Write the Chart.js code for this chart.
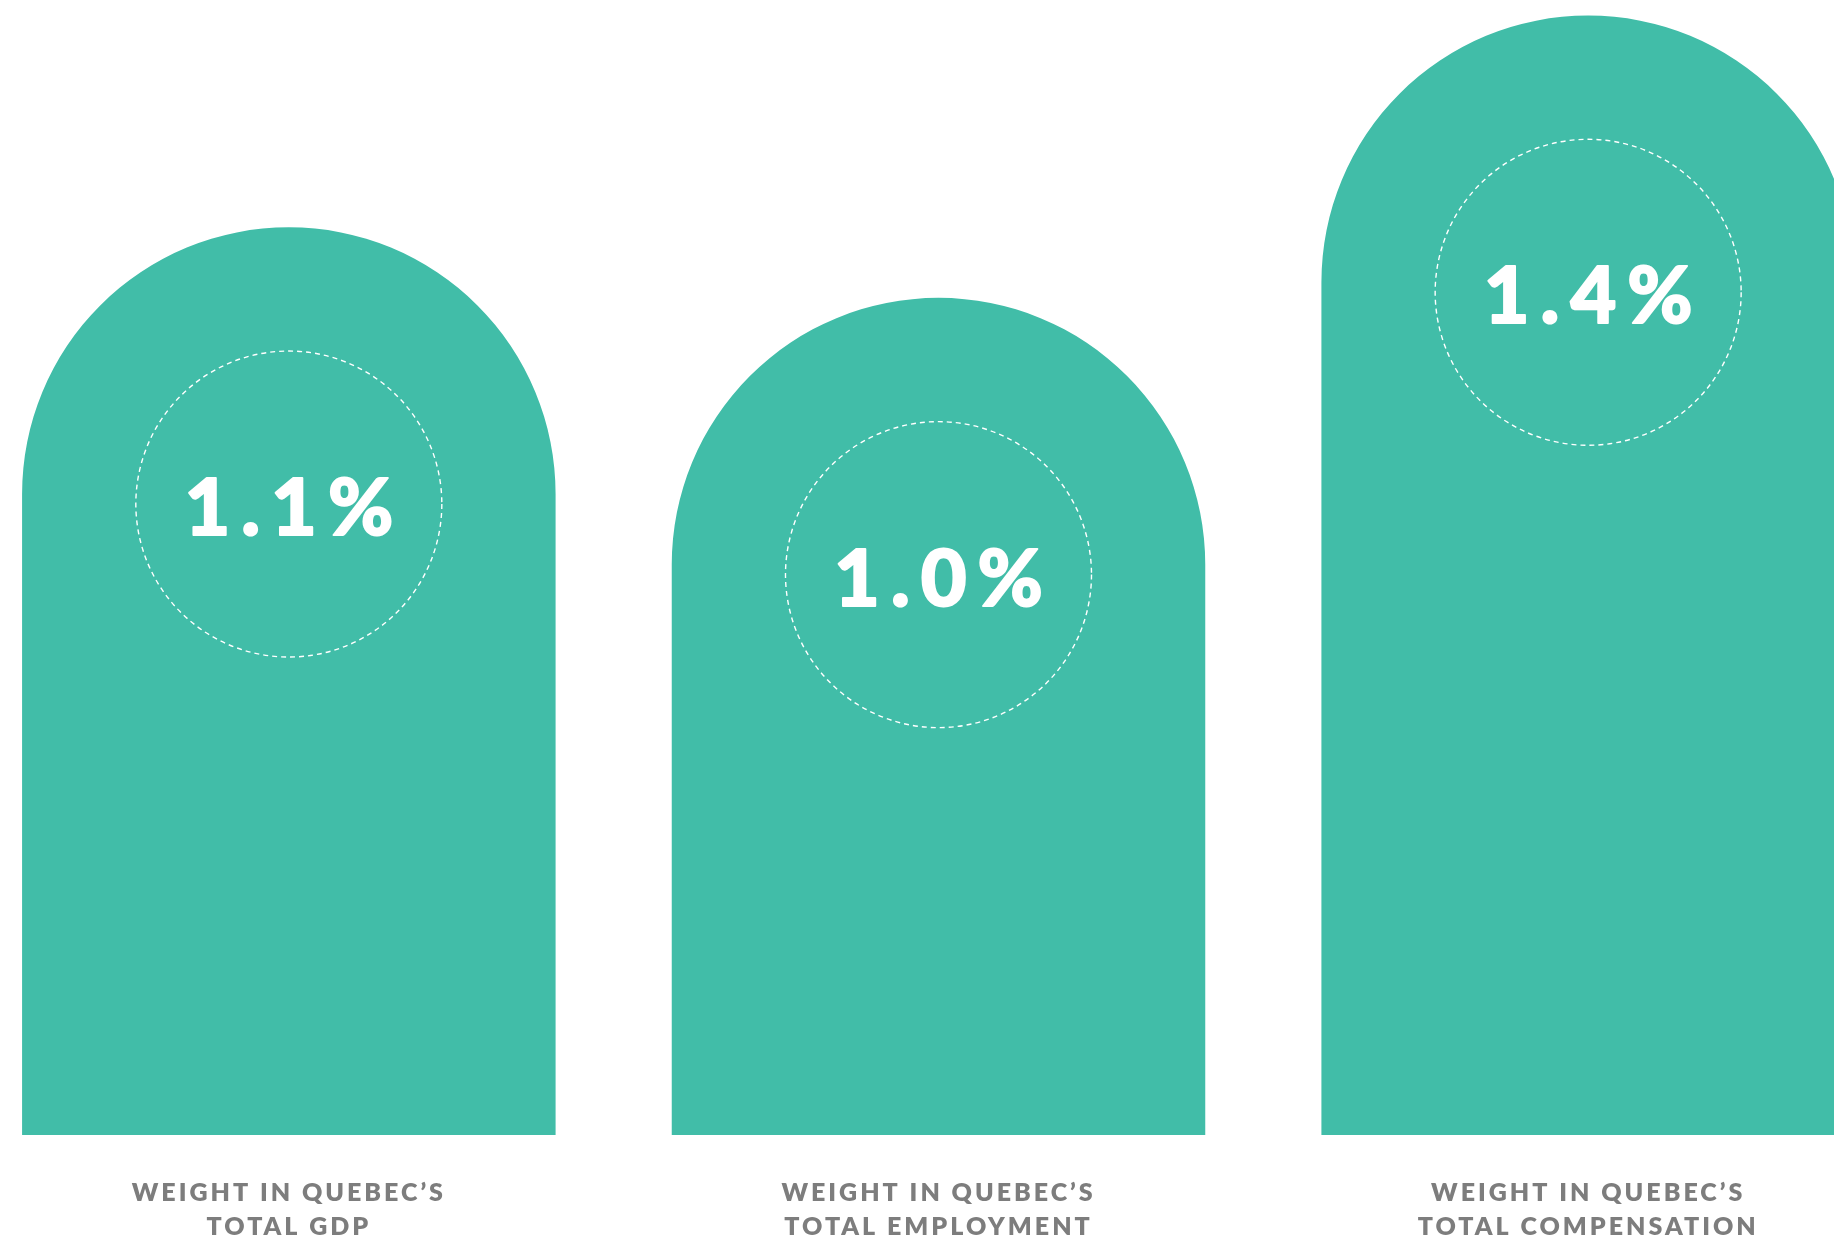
<!DOCTYPE html>
<html>
<head>
<meta charset="utf-8">
<script src="https://cdn.jsdelivr.net/npm/chart.js@4.4.1/dist/chart.umd.min.js"></script>
<style>
  html, body { margin: 0; padding: 0; background: #ffffff; overflow: hidden; width: 1834px; height: 1236px; }
  #wrap { position: absolute; left: -35.6px; top: 0; width: 1949px; height: 1236px; }
</style>
</head>
<body>
<div id="wrap"><canvas id="c" width="1949" height="1236"></canvas></div>
<script>
// ---- data ----
const categories = [
  ["WEIGHT IN QUEBEC\u2019S", "TOTAL GDP"],
  ["WEIGHT IN QUEBEC\u2019S", "TOTAL EMPLOYMENT"],
  ["WEIGHT IN QUEBEC\u2019S", "TOTAL COMPENSATION"]
];
const values = [1.1, 1.0, 1.4];
const valueLabels = ["1.1%", "1.0%", "1.4%"];

// ---- styling ----
const BAR_COLOR = '#41bda8';
const LABEL_COLOR = '#7d7d7d';
const AXIS_MIN = -0.186;
const AXIS_MAX = 1.422;

const labelPlugin = {
  id: 'archLabels',
  beforeDraw(chart) {
    chart.ctx.letterSpacing = '3px';
  },
  afterDatasetsDraw(chart) {
    const ctx = chart.ctx;
    const meta = chart.getDatasetMeta(0);
    meta.data.forEach((bar, i) => {
      const cx = bar.x;
      const cy = bar.y + bar.width / 2 + 10;
      ctx.save();
      ctx.beginPath();
      ctx.setLineDash([5, 4]);
      ctx.lineWidth = 1.4;
      ctx.strokeStyle = '#ffffff';
      ctx.arc(cx, cy, 153, 0, Math.PI * 2);
      ctx.stroke();
      ctx.setLineDash([]);
      const sp = 11;
      ctx.letterSpacing = sp + 'px';
      ctx.fillStyle = '#ffffff';
      ctx.strokeStyle = '#ffffff';
      ctx.lineWidth = 2;
      ctx.lineJoin = 'round';
      ctx.font = '900 79px Lato';
      ctx.textAlign = 'center';
      ctx.textBaseline = 'alphabetic';
      ctx.fillText(valueLabels[i], cx + sp / 2, cy + 31);
      ctx.strokeText(valueLabels[i], cx + sp / 2, cy + 31);
      ctx.restore();
    });
  }
};

new Chart(document.getElementById('c'), {
  type: 'bar',
  data: {
    labels: categories,
    datasets: [{
      data: values,
      base: AXIS_MIN,
      backgroundColor: BAR_COLOR,
      borderWidth: 0,
      borderRadius: { topLeft: 9999, topRight: 9999 },
      borderSkipped: 'start',
      categoryPercentage: 1,
      barPercentage: 0.8212
    }]
  },
  options: {
    responsive: false,
    animation: false,
    devicePixelRatio: 1,
    layout: { padding: 0 },
    plugins: { legend: { display: false }, tooltip: { enabled: false } },
    scales: {
      y: { display: false, min: AXIS_MIN, max: AXIS_MAX },
      x: {
        offset: true,
        border: { display: false },
        grid: { display: false, drawTicks: false },
        ticks: {
          color: LABEL_COLOR,
          font: { family: 'Lato', size: 25, weight: '800', lineHeight: 1.36 },
          padding: 41,
          maxRotation: 0,
          autoSkip: false
        },
        afterFit(scale) { scale.height = 101; }
      }
    }
  },
  plugins: [labelPlugin]
});
</script>
</body>
</html>
